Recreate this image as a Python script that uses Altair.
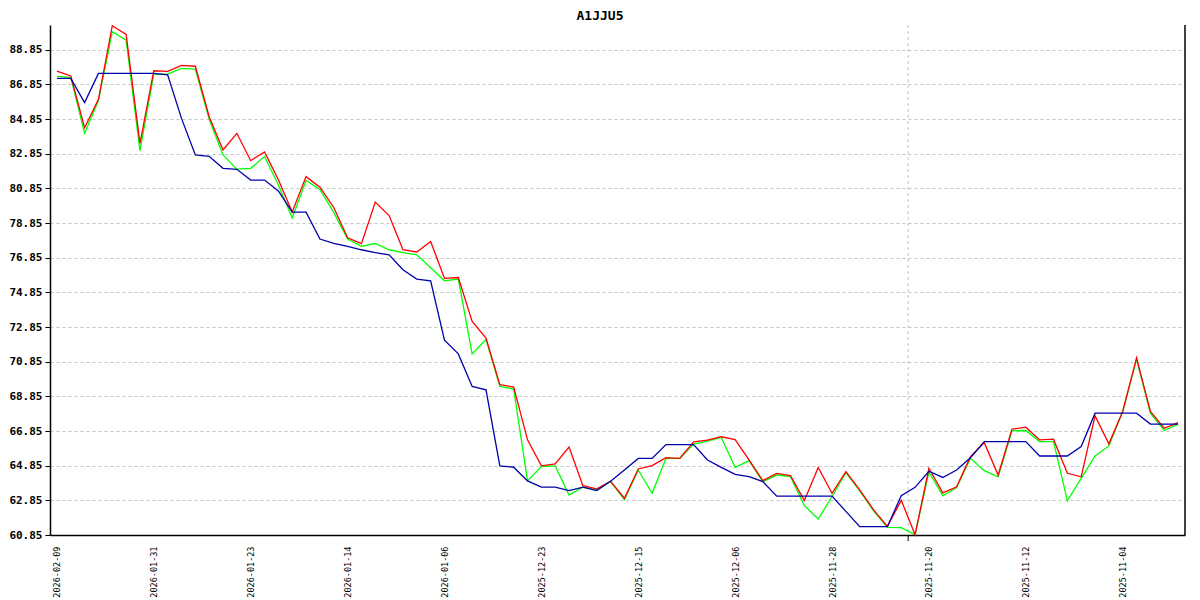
import altair as alt
import pandas as pd

title_text = "A1JJU5"

tick_index = [0, 7, 14, 21, 28, 35, 42, 49, 56, 63, 70, 77]
tick_labels = ["2026-02-09", "2026-01-31", "2026-01-23", "2026-01-14", "2026-01-06",
               "2025-12-23", "2025-12-15", "2025-12-06", "2025-11-28", "2025-11-20",
               "2025-11-12", "2025-11-04"]
y_ticks = [60.85, 62.85, 64.85, 66.85, 68.85, 70.85, 72.85, 74.85, 76.85, 78.85,
           80.85, 82.85, 84.85, 86.85, 88.85]
marker_index = [61.5]

red_values = [87.62, 87.34, 84.35, 85.99, 90.24, 89.74, 83.45, 87.64, 87.60, 87.95,
              87.90, 84.99, 83.07, 84.03, 82.45, 82.96, 81.35, 79.49, 81.53, 80.92,
              79.75, 78.00, 77.66, 80.06, 79.28, 77.31, 77.18, 77.79, 75.66, 75.71,
              73.17, 72.21, 69.52, 69.39, 66.34, 64.84, 64.95, 65.92, 63.70, 63.51,
              63.95, 62.97, 64.66, 64.85, 65.31, 65.27, 66.23, 66.32, 66.52, 66.36,
              65.18, 63.99, 64.41, 64.28, 62.84, 64.75, 63.26, 64.51, 63.45, 62.30,
              61.35, 62.85, 60.87, 64.70, 63.28, 63.63, 65.37, 66.18, 64.31, 66.96,
              67.07, 66.34, 66.38, 64.41, 64.21, 67.73, 66.11, 67.98, 71.07, 67.98,
              67.01, 67.34]
green_values = [87.32, 87.26, 84.03, 85.92, 89.89, 89.41, 83.03, 87.45, 87.45, 87.78,
                87.74, 84.84, 82.78, 81.96, 82.01, 82.69, 81.05, 79.14, 81.31, 80.79,
                79.47, 77.93, 77.51, 77.67, 77.31, 77.15, 77.02, 76.27, 75.52, 75.62,
                71.30, 72.13, 69.42, 69.27, 63.97, 64.80, 64.84, 63.16, 63.61, 63.45,
                63.95, 62.88, 64.60, 63.26, 65.27, 65.27, 66.09, 66.27, 66.48, 64.75,
                65.14, 63.93, 64.31, 64.22, 62.55, 61.77, 63.07, 64.45, 63.40, 62.25,
                61.29, 61.27, 60.87, 64.50, 63.11, 63.59, 65.28, 64.56, 64.21, 66.86,
                66.88, 66.24, 66.24, 62.82, 64.12, 65.41, 65.99, 67.98, 70.98, 67.88,
                66.88, 67.25]
blue_values = [87.20, 87.20, 85.80, 87.49, 87.49, 87.49, 87.49, 87.49, 87.40, 84.89,
               82.78, 82.70, 82.01, 81.95, 81.33, 81.33, 80.70, 79.48, 79.48, 77.93,
               77.68, 77.50, 77.31, 77.15, 77.02, 76.16, 75.62, 75.52, 72.09, 71.30,
               69.42, 69.23, 64.84, 64.76, 63.97, 63.61, 63.61, 63.41, 63.61, 63.41,
               63.95, 64.60, 65.27, 65.27, 66.07, 66.07, 66.07, 65.18, 64.75, 64.35,
               64.22, 63.93, 63.09, 63.09, 63.09, 63.09, 63.09, 62.21, 61.33, 61.33,
               61.33, 63.12, 63.60, 64.53, 64.17, 64.60, 65.31, 66.24, 66.24, 66.24,
               66.24, 65.41, 65.41, 65.41, 65.95, 67.88, 67.88, 67.88, 67.88, 67.25,
               67.25, 67.25]

series_colors = {"green": "#00FF00", "red": "#FF0000", "blue": "#0000AA"}

rows = []
for name, vals in (("green", green_values), ("red", red_values), ("blue", blue_values)):
    for i, v in enumerate(vals):
        rows.append({"idx": i, "series": name, "value": v})
df = pd.DataFrame(rows)

label_expr = "[" + ",".join("'%s'" % d for d in tick_labels) + "][round(datum.value / 7)]"

x_scale = alt.Scale(domain=[-0.5, 81.5], nice=False, zero=False)
x_enc = alt.X(
    "idx:Q",
    scale=x_scale,
    axis=alt.Axis(
        values=tick_index, labelExpr=label_expr, labelAngle=270, labelAlign="right",
        labelBaseline="middle", labelFont="DejaVu Sans Mono", labelFontSize=8.5,
        labelColor="black", labelPadding=11, ticks=False, grid=False,
        domainColor="black", domainWidth=1.5, title=None, labelOverlap=False,
    ),
)
y_scale = alt.Scale(domain=[60.85, 90.28], nice=False, zero=False)
y_enc = alt.Y(
    "value:Q",
    scale=y_scale,
    axis=alt.Axis(
        values=y_ticks, format=".2f", labelFont="DejaVu Sans Mono", labelFontWeight="bold",
        labelFontSize=11, labelColor="black", labelPadding=3, tickSize=5,
        tickColor="black", domainColor="black", domainWidth=1.5, grid=True,
        gridColor="#C4C4C4", gridDash=[3, 3], gridWidth=1, title=None,
        labelOverlap=False,
    ),
)

base = alt.Chart(df)
layers = []
for name in ("green", "red", "blue"):
    layers.append(
        base.transform_filter(alt.datum.series == name)
        .mark_line(color=series_colors[name], strokeWidth=1.3)
        .encode(x=x_enc, y=y_enc)
    )

mdf = pd.DataFrame({"idx": marker_index})
marker = alt.Chart(mdf).mark_rule(color="#C4C4C4", strokeDash=[3, 3], strokeWidth=1).encode(
    x=alt.X("idx:Q", scale=x_scale)
)
marker_tick = alt.Chart(mdf).mark_rule(color="black", strokeWidth=1).encode(
    x=alt.X("idx:Q", scale=x_scale),
    y=alt.value(510), y2=alt.value(516),
)

right_border = alt.Chart(mdf).mark_rule(color="black", strokeWidth=1.5).encode(
    x=alt.value(1135), y=alt.value(0), y2=alt.value(510),
)

title_mark = alt.Chart(pd.DataFrame({"t": [title_text]})).mark_text(
    font="DejaVu Sans Mono", fontSize=13, fontWeight="bold", color="black",
    align="center", baseline="alphabetic",
).encode(x=alt.value(550), y=alt.value(-5.5), text="t:N")

chart = (
    alt.layer(marker, *layers, marker_tick, right_border, title_mark)
    .properties(
        width=1135, height=510,
        autosize=alt.AutoSizeParams(type="none"),
        padding={"left": 42, "top": 17, "right": 7, "bottom": 65},
        background="white",
    )
    .configure_view(stroke=None)
)

chart.save("out.html", embed_options={"renderer": "svg", "actions": False})
